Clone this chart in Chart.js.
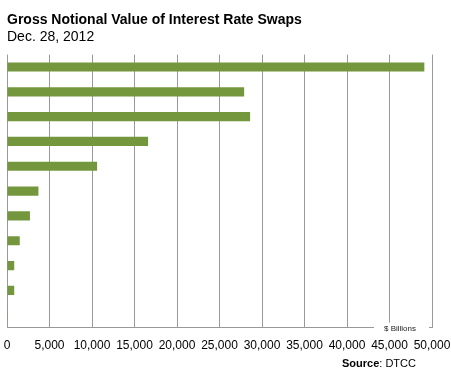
<!DOCTYPE html>
<html>
<head>
<meta charset="utf-8">
<script src="https://cdn.jsdelivr.net/npm/chart.js@4/dist/chart.umd.min.js"></script>
<style>
  html, body { margin: 0; padding: 0; background: #fff; }
  #wrap { width: 451px; height: 374px; }
</style>
</head>
<body>
<div id="wrap"><canvas id="swapChart" width="451" height="374"></canvas></div>
<script>
// notional value per bucket, $ billions, top to bottom
var buckets = ['1', '2', '3', '4', '5', '6', '7', '8', '9', '10', '11'];
var notional = [49100, 27900, 28600, 16600, 10600, 3700, 2700, 1500, 850, 850, 40];
var xTicks = [0, 5000, 10000, 15000, 20000, 25000, 30000, 35000, 40000, 45000, 50000];

var FONT = 'Arial, "Liberation Sans", sans-serif';

// unit label sitting on the x axis + source line under the chart
var extraText = {
    id: 'extraText',
    afterDraw: function (chart) {
        var ctx = chart.ctx;
        var area = chart.chartArea;
        ctx.save();
        ctx.fillStyle = '#fff';
        ctx.fillRect(area.right - 58, area.bottom - 5, 55, 10);
        ctx.fillStyle = '#222';
        ctx.font = '8px ' + FONT;
        ctx.textAlign = 'left';
        ctx.textBaseline = 'middle';
        ctx.fillText('$ Billions', area.right - 48, area.bottom + 1);

        ctx.font = 'bold 11px ' + FONT;
        ctx.fillStyle = '#000';
        var x = 342;
        ctx.fillText('Source', x, 364);
        x += ctx.measureText('Source').width;
        ctx.font = '11px ' + FONT;
        ctx.fillText(': DTCC', x, 364);
        ctx.restore();
    }
};

var chartConfig = {
    type: 'bar',
    data: {
        labels: buckets,
        datasets: [{
            data: notional,
            backgroundColor: '#74973E',
            borderWidth: 0,
            barPercentage: 1,
            categoryPercentage: 0.37
        }]
    },
    options: {
        indexAxis: 'y',
        responsive: false,
        animation: false,
        layout: { padding: { left: 7, right: 19, top: 4, bottom: 10 } },
        plugins: {
            legend: { display: false },
            tooltip: { enabled: false },
            title: {
                display: true,
                text: 'Gross Notional Value of Interest Rate Swaps',
                align: 'start',
                color: '#000',
                font: { family: FONT, size: 14, weight: 'bold' },
                padding: { top: 8, bottom: 0 }
            },
            subtitle: {
                display: true,
                text: 'Dec. 28, 2012',
                align: 'start',
                color: '#000',
                font: { family: FONT, size: 14 },
                padding: { top: 0, bottom: 9 }
            }
        },
        scales: {
            x: {
                min: 0,
                max: 50000,
                afterBuildTicks: function (scale) {
                    scale.ticks = xTicks.map(function (v) { return { value: v }; });
                },
                // let the end labels hang outside the plot instead of shrinking it
                afterFit: function (scale) {
                    scale.paddingLeft = 0;
                    scale.paddingRight = 0;
                },
                grid: { color: '#999', lineWidth: 1, drawTicks: false },
                border: { color: '#999' },
                ticks: {
                    color: '#000',
                    padding: 11,
                    maxRotation: 0,
                    font: { family: FONT, size: 12 },
                    callback: function (v) { return v.toLocaleString('en-US'); }
                }
            },
            y: { display: false }
        }
    },
    plugins: [extraText]
};

var ctx = document.getElementById('swapChart').getContext('2d');
var swapChart = new Chart(ctx, chartConfig);
</script>
</body>
</html>
